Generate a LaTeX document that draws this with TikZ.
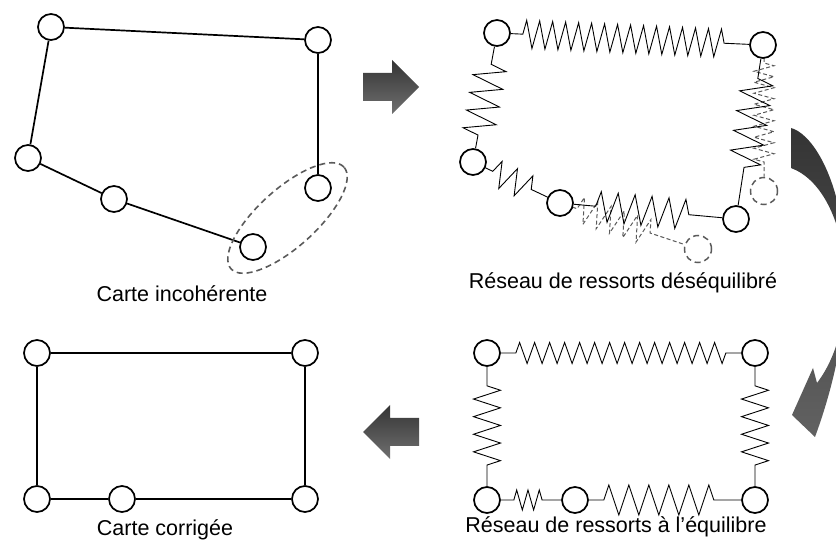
\documentclass[tikz,border=0pt]{standalone}
\usepackage{fontspec}
\setmainfont{Liberation Sans}
\usetikzlibrary{shapes.geometric, decorations.pathmorphing, positioning, calc}
\definecolor{ArrowDark}{RGB}{52, 52, 52}
\definecolor{ArrowLight}{RGB}{112, 112, 112}
\definecolor{GhostGray}{RGB}{90, 90, 90}

\begin{document}
\begin{tikzpicture}[
    x=1pt, y=-1pt,
    site/.style={circle, draw, line width=1.7pt, fill=white, minimum size=26pt, inner sep=0pt},
    ghost_site/.style={circle, draw=GhostGray, dash pattern=on 6pt off 4pt, line width=1.5pt, minimum size=27pt, inner sep=0pt},
    link/.style={line width=1.7pt},
    spring/.style={decorate, line width=0.9pt, decoration={zigzag, #1}},
    ghost_spring/.style={decorate, dash pattern=on 4pt off 2.5pt, draw=GhostGray, line width=1pt, decoration={zigzag, #1}},
    caption/.style={anchor=base, font=\fontsize{21.5}{26}\selectfont}
]
\useasboundingbox (0,0) rectangle (836,545);

% carte incoherente
\node[site] (m1) at (51,27) {};
\node[site] (m2) at (318,40) {};
\node[site] (m3) at (318,188) {};
\node[site] (m4) at (253,247) {};
\node[site] (m5) at (114,199) {};
\node[site] (m6) at (28,158) {};
\draw[link] (m1) -- (m2);
\draw[link] (m2) -- (m3);
\draw[link] (m1) -- (m6);
\draw[link] (m6) -- (m5);
\draw[link] (m5) -- (m4);
\node[ellipse, draw=GhostGray, dash pattern=on 6pt off 4pt, line width=1.6pt, minimum width=152pt, minimum height=58pt, rotate=42] (loop) at (287.5,218) {};
\node[caption] (capA) at (182,302) {Carte incohérente};

% reseau desequilibre
\node[ghost_site] (g1) at (764,191) {};
\node[ghost_site] (g2) at (698,249) {};
\draw[ghost_spring={segment length=11pt, amplitude=10pt, pre length=18pt, post length=14pt}] (764,45) -- (g1);
\draw[ghost_spring={segment length=14pt, amplitude=13pt, pre length=18pt, post length=30pt}] (560,203) -- (g2);
\node[site] (u1) at (497,33) {};
\node[site] (u2) at (763,45) {};
\node[site] (u3) at (473,162) {};
\node[site] (u4) at (560,203) {};
\node[site] (u5) at (736,219) {};
\draw[spring={segment length=13pt, amplitude=14pt, pre length=12pt, post length=22pt}] (u1) -- (u2);
\draw[spring={segment length=18pt, amplitude=16pt, pre length=18pt, post length=12pt}] (u1) -- (u3);
\draw[spring={segment length=17pt, amplitude=13pt, pre length=8pt, post length=10pt}] (u3) -- (u4);
\draw[spring={segment length=17pt, amplitude=15pt, pre length=22pt, post length=26pt}] (u4) -- (u5);
\draw[spring={segment length=20pt, amplitude=16pt, pre length=20pt, post length=30pt}] (u2) -- (u5);
\node[caption] (capB) at (623,289) {Réseau de ressorts déséquilibré};

% reseau a l'equilibre
\node[site] (e1) at (487,353) {};
\node[site] (e2) at (755,353) {};
\node[site] (e3) at (487,500) {};
\node[site] (e4) at (575,500) {};
\node[site] (e5) at (755,500) {};
\draw[spring={segment length=15pt, amplitude=10.5pt, pre length=15pt, post length=15pt}] (e1) -- (e2);
\draw[spring={segment length=17.6pt, amplitude=13.5pt, pre length=19pt, post length=14pt}] (e1) -- (e3);
\draw[spring={segment length=17.6pt, amplitude=13.5pt, pre length=19pt, post length=14pt}] (e2) -- (e5);
\draw[spring={segment length=11.3pt, amplitude=10pt, pre length=13pt, post length=15pt}] (e3) -- (e4);
\draw[spring={segment length=20pt, amplitude=15pt, pre length=15pt, post length=19pt}] (e4) -- (e5);
\node[caption] (capC) at (616,532) {Réseau de ressorts à l’équilibre};

% carte corrigee
\node[site] (c1) at (37,353) {};
\node[site] (c2) at (305,353) {};
\node[site] (c3) at (37,499) {};
\node[site] (c4) at (122,499) {};
\node[site] (c5) at (305,499) {};
\draw[link] (c1) -- (c2);
\draw[link] (c1) -- (c3);
\draw[link] (c2) -- (c5);
\draw[link] (c3) -- (c4);
\draw[link] (c4) -- (c5);
\node[caption] (capD) at (165,535) {Carte corrigée};

% fleches
\shade[top color=ArrowDark, bottom color=ArrowLight] (363,73) -- (392,73) -- (392,60) -- (419,87) -- (392,114) -- (392,101) -- (363,101) -- cycle;
\shade[top color=ArrowDark, bottom color=ArrowLight] (419,418) -- (390,418) -- (390,405) -- (363,432) -- (390,459) -- (390,446) -- (419,446) -- cycle;
\begin{scope}
\clip (0,0) rectangle (836,545);
\shade[top color=ArrowDark, bottom color=ArrowLight!110] (791,128) .. controls (828,138) and (880,260) .. (815,437) -- (792,415) -- (813,368) -- (817,383) .. controls (865,320) and (850,190) .. (791,168) -- cycle;
\end{scope}
\end{tikzpicture}
\end{document}
